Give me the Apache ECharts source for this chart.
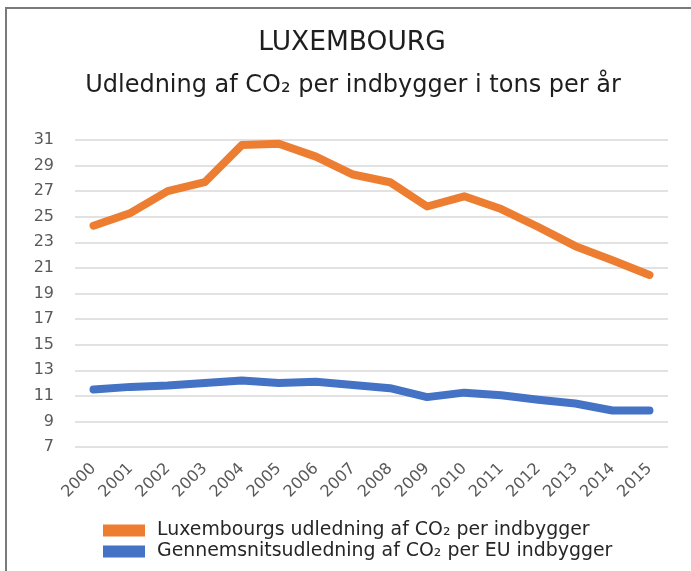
<!DOCTYPE html>
<html>
<head>
<meta charset="utf-8">
<script src="https://cdn.jsdelivr.net/npm/echarts@6/dist/echarts.min.js"></script>
<style>
html,body{margin:0;padding:0;background:#fff;}
#chart{width:691px;height:571px;}
</style>
</head>
<body>
<div id="chart"></div>
<script>
const years = ['2000','2001','2002','2003','2004','2005','2006','2007','2008','2009','2010','2011','2012','2013','2014','2015'];
const luxembourg = [24.3, 25.3, 27.0, 27.7, 30.6, 30.7, 29.7, 28.3, 27.7, 25.8, 26.6, 25.6, 24.2, 22.7, 21.6, 20.45];
const euAverage = [11.5, 11.7, 11.8, 12.0, 12.2, 12.0, 12.1, 11.85, 11.6, 10.9, 11.25, 11.05, 10.7, 10.4, 9.85, 9.85];
const yTicks = [7, 9, 11, 13, 15, 17, 19, 21, 23, 25, 27, 29, 31];
const seriesNames = ['Luxembourgs udledning af CO\u2082 per indbygger', 'Gennemsnitsudledning af CO\u2082 per EU indbygger'];
const colors = ['#ED7D31', '#4472C4'];

const chart = echarts.init(document.getElementById('chart'));
const font = 'DejaVu Sans';
chart.setOption({
  animation: false,
  backgroundColor: '#fff',
  textStyle: { fontFamily: font },
  graphic: [
    { type: 'rect', shape: { x: 6, y: 8, width: 720, height: 620 }, style: { fill: 'none', stroke: '#7a7a7a', lineWidth: 2 }, silent: true },
    { type: 'text', x: 352, y: 43, style: { text: 'LUXEMBOURG', fontFamily: font, fontSize: 26.5, fill: '#1e1e1e', textAlign: 'center', textVerticalAlign: 'middle' } },
    { type: 'text', x: 353, y: 86, style: { text: 'Udledning af CO\u2082 per indbygger i tons per år', fontFamily: font, fontSize: 24, fill: '#1e1e1e', textAlign: 'center', textVerticalAlign: 'middle' } }
  ],
  grid: { left: 75, right: 23, top: 140, bottom: 124, containLabel: false },
  legend: {
    orient: 'vertical', left: 103, top: 521, height: 50, padding: 0,
    itemWidth: 42, itemHeight: 12, itemGap: 2,
    icon: 'rect',
    textStyle: { fontFamily: font, fontSize: 18.9, lineHeight: 19, color: '#262626', padding: [0, 0, 0, 7] },
    data: [
      { name: seriesNames[0], itemStyle: { color: colors[0] } },
      { name: seriesNames[1], itemStyle: { color: colors[1] } }
    ]
  },
  xAxis: {
    type: 'category', data: years, boundaryGap: true,
    axisLine: { show: false }, axisTick: { show: false },
    axisLabel: { rotate: 45, fontFamily: font, fontSize: 16, color: '#595959', margin: 19, interval: 0 }
  },
  yAxis: {
    type: 'value', min: 7, max: 31,
    axisLine: { show: false },
    axisTick: { show: false, customValues: yTicks },
    axisLabel: { customValues: yTicks, fontFamily: font, fontSize: 16, color: '#595959', margin: 21 },
    splitLine: { show: true, lineStyle: { color: '#d9d9d9', width: 1.5 } }
  },
  series: [
    { name: seriesNames[0], type: 'line', data: luxembourg, showSymbol: false, symbol: 'none',
      itemStyle: { color: colors[0] }, lineStyle: { color: colors[0], width: 8, cap: 'round', join: 'round' } },
    { name: seriesNames[1], type: 'line', data: euAverage, showSymbol: false, symbol: 'none',
      itemStyle: { color: colors[1] }, lineStyle: { color: colors[1], width: 8, cap: 'round', join: 'round' } }
  ]
});
</script>
</body>
</html>
